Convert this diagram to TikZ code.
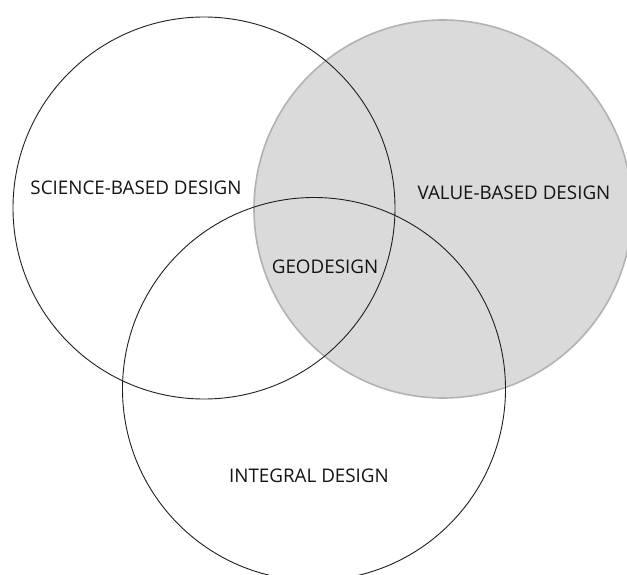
\documentclass[tikz,border=0pt]{standalone}
\usepackage{fontspec}
\setmainfont{Open Sans}
\begin{document}
\begin{tikzpicture}[x=1pt,y=-1pt,
  ring/.style={draw=black!88,line width=0.9pt},
  valring/.style={draw=black!30,fill=black!14.5,line width=1.6pt},
  lbl/.style={font=\fontsize{18.8}{21}\selectfont,text=black!92,inner sep=0pt,anchor=base}]
\useasboundingbox (0,0) rectangle (627,575);
\begin{scope}
\clip (0,0) rectangle (627,575);
\draw[valring] (443,209) circle[radius=189];
\draw[ring] (204,208) circle[radius=191];
\draw[ring] (314,389) circle[radius=191.5];
\end{scope}
\node[lbl] (science) at (136,195) {SCIENCE-BASED DESIGN};
\node[lbl] (value) at (514,200) {VALUE-BASED DESIGN};
\node[lbl] (geo) at (325,273.5) {GEODESIGN};
\node[lbl] (integral) at (309,482.5) {INTEGRAL DESIGN};
\end{tikzpicture}
\end{document}
